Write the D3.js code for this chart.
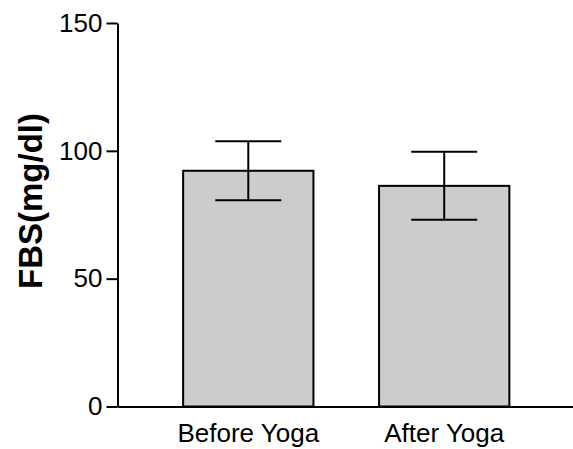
<!DOCTYPE html>
<html>
<head>
<meta charset="utf-8">
<title>FBS bar chart</title>
<script src="https://d3js.org/d3.v7.min.js"></script>
<style>
  body { margin: 0; background: #fff; }
</style>
</head>
<body>
<div id="chart"></div>
<script>
    // dados
    const groups = ["Before Yoga", "After Yoga"];
    const means = [92.2, 86.3];
    const errors = [11.5, 13.3];
    const yTicks = [0, 50, 100, 150];

    const margin = {top: 23, right: 0, bottom: 42.5, left: 117.5};
    const W = 573, H = 449;
    const w = W - margin.left - margin.right;
    const h = H - margin.top - margin.bottom;

    const svg = d3.select("#chart")
        .append("svg")
            .attr("width", W)
            .attr("height", H)
        .append("g")
            .attr("transform", "translate(" + margin.left + "," + margin.top + ")");

    const data = groups.map((g, i) => ({group: g, mean: means[i], err: errors[i]}));

    const x = d3.scaleBand()
        .domain(groups)
        .range([0, w + 2])
        .paddingInner(0.335)
        .paddingOuter(0.335);

    const y = d3.scaleLinear()
        .domain([0, 150])
        .range([h, 0]);

    // barras
    svg.selectAll("rect.bar")
        .data(data)
        .enter()
        .append("rect")
        .attr("class", "bar")
        .attr("x", d => x(d.group))
        .attr("y", d => y(d.mean))
        .attr("width", x.bandwidth())
        .attr("height", d => y(0) - y(d.mean))
        .attr("fill", "#cccccc")
        .attr("stroke", "#000")
        .attr("stroke-width", 2);

    // barras de erro
    const capW = 66;
    const eb = svg.selectAll("g.err")
        .data(data)
        .enter()
        .append("g")
        .attr("class", "err")
        .attr("stroke", "#000")
        .attr("stroke-width", 2);

    eb.append("line")
        .attr("x1", d => x(d.group) + x.bandwidth() / 2)
        .attr("x2", d => x(d.group) + x.bandwidth() / 2)
        .attr("y1", d => y(d.mean + d.err))
        .attr("y2", d => y(d.mean - d.err));
    eb.append("line")
        .attr("x1", d => x(d.group) + x.bandwidth() / 2 - capW / 2)
        .attr("x2", d => x(d.group) + x.bandwidth() / 2 + capW / 2)
        .attr("y1", d => y(d.mean + d.err))
        .attr("y2", d => y(d.mean + d.err));
    eb.append("line")
        .attr("x1", d => x(d.group) + x.bandwidth() / 2 - capW / 2)
        .attr("x2", d => x(d.group) + x.bandwidth() / 2 + capW / 2)
        .attr("y1", d => y(d.mean - d.err))
        .attr("y2", d => y(d.mean - d.err));

    // eixo y
    const yAxis = d3.axisLeft(y)
        .tickValues(yTicks)
        .tickSize(11)
        .tickPadding(4)
        .tickSizeOuter(0);

    const gy = svg.append("g").call(yAxis);
    gy.select(".domain").attr("stroke-width", 2);
    gy.selectAll(".tick line").attr("stroke-width", 2);
    gy.selectAll("text")
        .attr("font-family", "Liberation Sans, Arial, sans-serif")
        .attr("font-size", "26px")
        .attr("fill", "#000");

    // eixo x
    const xAxis = d3.axisBottom(x)
        .tickSize(0)
        .tickPadding(17)
        .tickSizeOuter(0);

    const gx = svg.append("g")
        .attr("transform", "translate(0," + h + ")")
        .call(xAxis);
    gx.select(".domain").attr("stroke-width", 2);
    gx.selectAll("text")
        .attr("font-family", "Liberation Sans, Arial, sans-serif")
        .attr("font-size", "26px")
        .attr("fill", "#000");

    // título do eixo y
    svg.append("text")
        .attr("transform", "rotate(-90)")
        .attr("x", -178)
        .attr("y", 42 - margin.left)
        .style("text-anchor", "middle")
        .attr("font-family", "Liberation Sans, Arial, sans-serif")
        .attr("font-weight", "bold")
        .attr("font-size", "33px")
        .text("FBS(mg/dl)");
</script>
</body>
</html>
